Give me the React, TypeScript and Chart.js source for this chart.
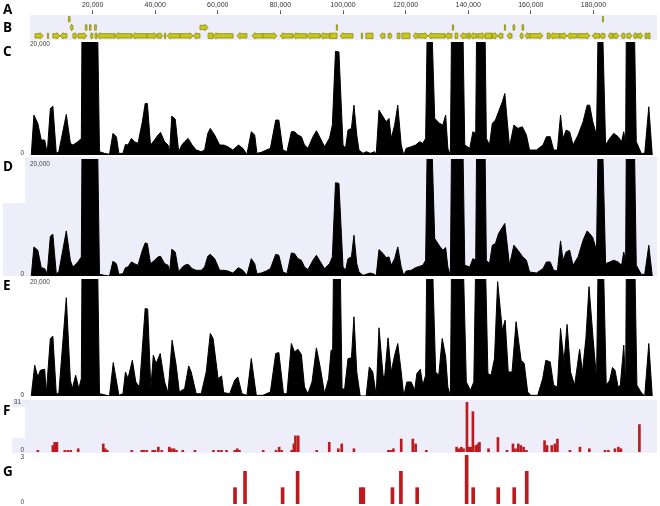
import React, { useEffect, useRef } from "react";
import { Chart, registerables } from "chart.js";
Chart.register(...registerables);

const X_MAX = 200000;
const TOP_TICKS = [20000, 40000, 60000, 80000, 100000, 120000, 140000, 160000, 180000];
const COV_MAX = 20000;
const F_MAX = 31;
const G_MAX = 3;

// Track C coverage (position in kb, value)
const C_POS = [0.4,1.25,2.5,3.6,4.7,5.5,6.5,7.3,8.4,9.2,11.6,12.9,13.7,15.3,16.4,16.7,21.4,22.2,23.8,25.4,26.5,27.6,28.4,29.7,30.5,31.3,32.4,33.4,34.5,35.9,36.8,37.5,38.5,39.8,40.9,41.7,43,44.1,44.6,45.3,46.4,47.5,48.5,49.4,50.5,51.8,53.1,54.7,55.8,56.8,57.6,59,60.6,61.9,63.2,64.8,66.6,68,69.3,70.7,71.8,72.5,73.9,75.5,76.8,78.5,79.5,80.8,82.1,83.5,84.5,85.6,86.7,87.7,88.8,90.4,91.5,92.8,94.1,95.7,96.6,97.6,98.7,100,100.8,101.6,102.7,103.5,104.4,105.1,106.4,107.4,108.7,110.1,110.6,111.5,112.8,113.8,114.7,115.4,116.5,117.5,118.6,119.4,120.2,121.8,123.2,124.5,125.5,126.4,127.0,128.0,129.3,130.9,131.9,132.8,133.5,134.3,134.8,138.1,138.9,140.5,141.5,142.4,142.8,145.2,145.8,146.8,147.7,148.7,149.7,150.9,151.7,153.2,154.6,155.9,157.3,158.6,159.6,161.8,163.9,165,166.2,167.3,168.5,169.5,170.3,171.3,172.4,173.5,175.1,176.7,178,178.8,179.8,181,181.7,182.6,183.9,185.2,186.5,187.9,189,189.7,190.3,190.6,192.9,193.7,195.3,196.4,197.7,198.8];
const C_VAL = [0,7060,5590,2650,2650,290,8240,8650,290,590,7180,2060,1760,2350,2940,30000,30000,590,290,120,3820,3240,290,290,1880,1760,2940,2350,2060,5880,9120,9120,1760,2650,3530,4000,2350,1760,590,6880,6350,590,1760,2350,2940,1760,880,590,880,3820,4710,3530,1760,1760,1470,880,1760,1180,120,4120,3530,290,470,880,1180,6180,6180,880,590,4120,4120,3530,3240,1760,1180,3240,4290,2940,1470,3000,5290,18350,18240,1760,1180,4410,4710,8820,3530,880,290,590,290,590,0,7940,6760,5880,6470,2940,5290,8820,1760,0,1180,1470,1760,2350,2060,2940,26000,30000,6470,5590,5290,7060,1180,0,30000,30000,1760,1180,4120,3820,30000,30000,2940,1760,5590,6180,7650,9410,10880,1470,5290,4710,5000,3530,880,880,1760,3240,3240,880,880,7060,2940,4410,4120,1760,3530,5880,8820,8820,5880,3530,30000,30000,1760,2940,3820,3240,2350,4120,2060,30000,30000,2350,290,290,8530,0];

// Track D coverage
const D_POS = [0.4,1.25,2.5,3.6,4.7,5.5,6.5,7.3,8.4,9.2,11.6,12.9,13.7,15.3,16.4,16.7,21.4,22.2,23.8,25.4,26.5,27.6,28.4,29.7,30.5,31.3,32.4,33.4,34.5,35.9,36.8,37.5,38.5,39.8,40.9,41.7,43,44.1,44.6,45.3,46.4,47.5,48.5,49.4,50.5,51.8,53.1,54.7,55.8,56.8,57.6,59,60.6,61.9,63.2,64.8,66.6,68,69.3,70.7,71.8,72.5,73.9,75.5,76.8,78.5,79.5,80.8,82.1,83.5,84.5,85.6,86.7,87.7,88.8,90.4,91.5,92.8,94.1,95.7,96.6,97.6,98.7,100,100.8,101.6,102.7,103.5,104.4,105.1,106.4,107.4,108.7,110.1,110.6,111.5,112.8,113.8,114.7,115.4,116.5,117.5,118.6,119.4,120.2,121.8,123.2,124.5,125.5,126.4,127.0,128.0,129.3,130.9,131.9,132.8,133.5,134.3,134.8,138.1,138.9,140.5,141.5,142.4,142.8,145.2,145.8,146.8,147.7,148.7,149.7,150.9,151.7,153.2,154.6,155.9,157.3,158.6,159.6,161.8,163.9,165,166.2,167.3,168.5,169.5,170.3,171.3,172.4,173.5,175.1,176.7,178,178.8,179.8,181,181.7,182.6,183.9,185.2,186.5,187.9,189,189.7,190.3,190.6,192.9,193.7,195.3,196.4,197.7,198.8];
const D_VAL = [0,4970,4400,1430,1260,400,6800,7140,400,690,7710,2690,1540,2400,3260,30000,30000,290,110,0,2510,2110,290,400,1430,1540,2400,2110,1830,4400,5660,5540,2110,2690,3260,3370,2110,1830,690,4570,4110,690,1430,1830,2000,1260,970,970,1540,3370,3710,2970,970,970,860,510,1430,970,110,2970,2110,400,510,860,1260,3710,3540,690,400,3940,3830,2970,2690,1540,1090,2690,3540,2400,1260,2110,3260,15940,15830,1540,970,2970,3260,6970,2110,690,110,290,510,290,0,4510,3830,3140,3260,1830,2970,4970,1540,110,860,970,1430,1660,1830,2690,26000,30000,6400,5090,4400,4860,1540,110,30000,30000,1830,1540,2970,2690,30000,30000,2690,2110,5260,5540,7260,8290,8970,1830,5260,4400,3370,2690,690,510,1260,2400,2400,970,860,6000,2690,4110,4400,1830,3260,6110,7710,7260,6570,4400,30000,30000,2110,2400,2690,2400,1830,4110,2400,30000,30000,1830,290,290,5260,0];

// Track E coverage
const E_POS = [0.4,1.5,2.5,3.3,4.7,5.2,6.5,7.3,8.4,9.2,11.6,12.9,13.5,14.6,15.6,16.4,16.7,21.4,22.2,25.4,26.6,28.4,29.7,30.5,31.3,32.7,33.8,35,36.8,37.6,38.6,39.4,40.3,41.6,43,44.1,45.4,46.7,47.7,49.4,50.7,51.5,53.1,54.7,56.3,57.6,58.5,60.1,61.2,61.9,63.8,65.4,66.4,67.7,69.3,70.7,72.3,74.4,76.8,78.5,79.5,81,82.1,83.5,84.5,85.6,86.7,87.7,88.8,90.1,91.5,92.8,94.1,95.4,96.2,96.7,97.1,98.9,99.7,100.5,101.6,102.7,103.5,104.4,105.5,107.4,108.4,109.5,110.6,111.5,112.8,113.3,114.4,115.4,116.5,117.5,118.6,119.4,120.4,121.8,122.9,123.6,124.7,125.5,126.4,126.9,128.2,129.6,130.6,131.7,132.8,133.5,134.3,134.8,138.1,139.4,140.7,141.8,142.6,145.2,146.3,147.3,148.4,149.4,150.9,151.8,152.8,154,155.3,156.9,157.9,159,160,162.2,163.8,164.8,166.2,167.3,168.5,169.5,170.6,171.6,172.7,174,175.6,176.5,177.6,178.6,179.9,181,181.7,182.9,184.1,185.2,186.1,186.9,187.9,188.6,189.7,190.3,190.6,193.0,193.9,195.3,196.4,197.7,198.8];
const E_VAL = [0,5260,3260,4400,4570,400,9830,10230,400,400,16800,2690,1260,3540,1260,2970,30000,30000,400,0,5710,110,400,4110,2970,6110,2400,1540,14970,14860,1260,6970,5540,7260,2400,570,9540,5260,690,1260,5140,4110,400,400,4110,10690,9830,2970,3430,570,400,2690,3260,400,110,6400,110,110,690,7260,7430,400,400,8970,7540,8000,7090,1540,400,2400,8230,4690,400,2970,7830,7830,30000,30000,1260,1140,6400,6510,13540,4110,0,0,4970,4110,110,11660,3540,3260,9940,4110,6970,8970,4110,0,2400,2400,970,3830,4570,1830,3540,30000,30000,4110,3540,9830,6690,1540,0,30000,30000,2400,970,2400,30000,30000,3830,3540,6400,19540,11260,12970,4110,4110,12690,6110,5540,690,110,110,2970,6110,5830,1830,1540,11540,5830,12230,4110,1830,8000,4110,9830,18690,9830,2970,30000,30000,1830,2690,4860,4400,1540,1830,8690,1830,30000,30000,1830,570,0,8970,0];

// Track F counts
const F_POS = [2.5,7.3,7.9,8.6,11.1,12.1,13.0,15.4,23.4,24.0,24.7,32.5,35.7,36.4,37.3,39.2,39.9,41.0,42.1,44.5,45.2,46.0,46.8,48.8,52.7,58.6,60.2,61.2,62.8,65.4,66.2,66.9,74.5,78.6,79.6,80.4,83.6,84.3,84.8,85.7,91.6,95.6,98.5,99.6,103.5,114.5,115.2,116.1,118.6,122.3,123.2,126.6,136.3,137.1,137.8,138.5,139.6,140.2,140.8,141.5,142.4,143.1,143.6,146.5,149.5,152.4,154.3,155.1,156.0,156.8,157.7,158.6,164.4,165.2,166.7,167.7,168.5,172.5,175.7,178.7,183.7,184.8,186.9,188.0,188.8,194.7];
const F_VAL = [1,4,6,6,1,1,1,2,5,2,1,1,1,1,1,1,1,3,1,3,2,2,1,1,1,1,1,1,1,1,2,1,1,1,3,1,1,5,10,10,1,6,2,5,2,1,1,2,8,8,5,1,3,2,3,2,31,3,3,25,4,5,6,2,9,1,5,2,5,4,3,1,7,4,4,5,8,1,3,2,1,1,2,3,2,17];

// Track G counts
const G_POS = [65.5,68.7,80.7,85.5,105.7,106.5,115.8,118.5,123.7,139.5,141.6,149.6,154.7,158.7];
const G_VAL = [1,2,1,2,1,1,1,2,1,3,1,1,1,2];

// Track B genes (kb), strand (1 forward, -1 reverse, 0 none), lane (0 top, 1 middle, 2 main)
const GENE_START = [1.6,5.6,7.3,9.6,13.7,15.3,19.2,20.8,21.4,27.2,32.6,37.4,40.6,43.0,43.8,47.9,52.1,56.9,58.5,66.1,70.9,74.4,79.9,84.0,88.5,92.7,95.8,99.0,105.9,107.3,111.8,114.4,117.3,118.8,122.4,124.3,127.2,132.6,135.8,137.4,139.9,140.6,143.1,145.4,147.6,149.5,152.4,156.5,158.1,159.7,165.2,166.1,169.3,171.6,175.1,179.6,182.1,184.7,186.3,188.8,190.7,192.7,194.2,196.5,197.4,12.8,17.7,19.0,20.6,54.3,97.9,135.0,151.6,154.3,157.2,12.3,182.9];
const GENE_END = [4.2,5.9,9.6,11.8,15.0,18.2,20.1,21.4,27.2,32.6,37.4,40.6,42.5,43.3,47.9,52.1,54.3,58.5,64.9,69.3,74.4,78.9,84.0,88.5,92.7,95.8,98.1,103.2,106.2,109.6,113.4,115.7,118.2,121.4,124.0,127.2,132.6,134.8,136.7,139.6,140.6,142.8,145.4,147.6,149.5,151.1,154.0,157.5,159.7,163.9,166.1,169.3,171.6,174.8,178.9,182.1,183.7,186.3,188.2,190.1,192.3,193.9,195.8,197.1,198.1,13.7,18.2,19.5,21.2,56.9,98.2,135.3,151.9,155.0,157.7,12.8,183.2];
const GENE_STRAND = [1,0,1,-1,1,1,-1,0,-1,-1,-1,1,1,0,-1,1,-1,0,-1,-1,-1,1,-1,-1,-1,-1,0,-1,0,0,-1,1,0,0,-1,1,-1,-1,0,-1,0,-1,1,0,1,-1,-1,-1,-1,1,0,-1,1,-1,1,-1,-1,-1,1,-1,1,-1,1,0,0,-1,0,0,0,1,0,0,0,1,-1,0,0];
const GENE_LANE = [2,2,2,2,2,2,2,2,2,2,2,2,2,2,2,2,2,2,2,2,2,2,2,2,2,2,2,2,2,2,2,2,2,2,2,2,2,2,2,2,2,2,2,2,2,2,2,2,2,2,2,2,2,2,2,2,2,2,2,2,2,2,2,2,2,1,1,1,1,1,1,1,1,1,1,0,0];
const LANES = ["top", "middle", "main"];

const LAVENDER = "rgb(238,238,251)";
const RED = "#bb1a1e";
const SMALL_FONT = '"Liberation Sans", Arial, sans-serif';

const baseOptions = (ymax: number): any => ({
  animation: false,
  responsive: false,
  maintainAspectRatio: false,
  events: [],
  layout: { padding: 0 },
  plugins: { legend: { display: false }, tooltip: { enabled: false } },
  scales: {
    x: { type: "linear", min: 0, max: X_MAX, display: false, offset: false },
    y: { type: "linear", min: 0, max: ymax, display: false },
  },
});

const coverageConfig = (pos: number[], val: number[]) => (): any => ({
  type: "line",
  data: {
    datasets: [
      {
        data: pos.map((p, i) => ({ x: p * 1000, y: val[i] })),
        borderColor: "#000",
        backgroundColor: "#000",
        borderWidth: 1,
        pointRadius: 0,
        fill: "origin",
        tension: 0,
      },
    ],
  },
  options: baseOptions(COV_MAX),
});

const barConfig = (pos: number[], val: number[], ymax: number, thickness: number) => (): any => ({
  type: "bar",
  data: {
    datasets: [
      {
        data: pos.map((p, i) => ({ x: p * 1000, y: val[i] })),
        backgroundColor: RED,
        borderWidth: 0,
        barThickness: thickness,
      },
    ],
  },
  options: baseOptions(ymax),
});

const geneArrows = {
  id: "geneArrows",
  afterDatasetsDraw(chart: any) {
    const ctx = chart.ctx;
    const meta = chart.getDatasetMeta(0);
    ctx.save();
    ctx.fillStyle = "#c6c61c";
    ctx.strokeStyle = "#8c8c08";
    ctx.lineWidth = 0.8;
    meta.data.forEach((el: any, i: number) => {
      const p = el.getProps(["x", "y", "base", "height"], true);
      let x0 = Math.min(p.x, p.base);
      let x1 = Math.max(p.x, p.base);
      if (x1 - x0 < 1.2) {
        const c = (x0 + x1) / 2;
        x0 = c - 0.6;
        x1 = c + 0.6;
      }
      const y = p.y;
      const hb = 2.2;
      const hh = 3.2;
      const head = Math.min(3, (x1 - x0) * 0.5);
      const s = GENE_STRAND[i];
      ctx.beginPath();
      if (s > 0 && x1 - x0 > 2) {
        ctx.moveTo(x0, y - hb);
        ctx.lineTo(x1 - head, y - hb);
        ctx.lineTo(x1 - head, y - hh);
        ctx.lineTo(x1, y);
        ctx.lineTo(x1 - head, y + hh);
        ctx.lineTo(x1 - head, y + hb);
        ctx.lineTo(x0, y + hb);
      } else if (s < 0 && x1 - x0 > 2) {
        ctx.moveTo(x1, y - hb);
        ctx.lineTo(x0 + head, y - hb);
        ctx.lineTo(x0 + head, y - hh);
        ctx.lineTo(x0, y);
        ctx.lineTo(x0 + head, y + hh);
        ctx.lineTo(x0 + head, y + hb);
        ctx.lineTo(x1, y + hb);
      } else {
        ctx.rect(x0, y - hb - 0.5, x1 - x0, 2 * hb + 1);
      }
      ctx.closePath();
      ctx.fill();
      ctx.stroke();
    });
    ctx.restore();
  },
};

const geneConfig = (): any => {
  const o = baseOptions(1);
  o.indexAxis = "y";
  o.scales = {
    x: { type: "linear", min: 0, max: X_MAX, display: false },
    y: { type: "category", display: false, offset: true },
  };
  return {
    type: "bar",
    data: {
      labels: LANES,
      datasets: [
        {
          data: GENE_START.map((s, i) => ({ x: [s * 1000, GENE_END[i] * 1000], y: LANES[GENE_LANE[i]] })),
          backgroundColor: "rgba(0,0,0,0)",
          borderWidth: 0,
          barThickness: 5,
        },
      ],
    },
    options: o,
    plugins: [geneArrows],
  };
};

const axisConfig = (): any => {
  const o = baseOptions(1);
  o.scales = {
    x: {
      type: "linear",
      position: "top",
      min: 0,
      max: X_MAX,
      offset: false,
      afterBuildTicks: (ax: any) => {
        ax.ticks = TOP_TICKS.map((v) => ({ value: v }));
      },
      ticks: {
        autoSkip: false,
        maxRotation: 0,
        padding: 1,
        color: "#333",
        font: { size: 7, family: SMALL_FONT },
        callback: (v: any) => Number(v).toLocaleString("en-US"),
      },
      grid: { drawOnChartArea: false, drawTicks: true, tickLength: 4, color: "#555" },
      border: { display: false },
    },
    y: { display: false },
  };
  return { type: "line", data: { datasets: [] }, options: o };
};

function ChartBox(props: { left: number; top: number; width: number; height: number; make: () => any }) {
  const ref = useRef<HTMLCanvasElement>(null);
  useEffect(() => {
    const chart = new Chart(ref.current as HTMLCanvasElement, props.make());
    return () => chart.destroy();
  }, []);
  return (
    <canvas
      ref={ref}
      width={props.width}
      height={props.height}
      style={{ position: "absolute", left: props.left, top: props.top, width: props.width, height: props.height }}
    />
  );
}

const Letter = ({ t, top }: { t: string; top: number }) => (
  <div
    style={{
      position: "absolute",
      left: 3,
      top,
      fontFamily: '"Open Sans", sans-serif',
      fontWeight: 700,
      fontSize: 13.5,
      lineHeight: "13px",
      color: "#000",
    }}
  >
    {t}
  </div>
);

const YLabel = ({ t, cy, left, right }: { t: string; cy: number; left?: number; right?: number }) => (
  <div
    style={{
      position: "absolute",
      top: cy - 4,
      left: right !== undefined ? right - 40 : left,
      width: right !== undefined ? 40 : undefined,
      textAlign: right !== undefined ? "right" : "left",
      fontFamily: SMALL_FONT,
      fontSize: 6.5,
      lineHeight: "8px",
      color: "#444",
      whiteSpace: "nowrap",
    }}
  >
    {t}
  </div>
);

export default function App() {
  const fmt = (v: number) => v.toLocaleString("en-US");
  return (
    <div style={{ position: "fixed", left: 0, top: 0, width: 660, height: 506, background: "#fff", overflow: "hidden" }}>
      {/* backgrounds */}
      <div style={{ position: "absolute", left: 30, top: 15, width: 627, height: 25, background: LAVENDER }} />
      <div style={{ position: "absolute", left: 3, top: 157, width: 654, height: 119, background: LAVENDER }} />
      <div style={{ position: "absolute", left: 0, top: 157, width: 25, height: 46, background: "#fff" }} />
      <div style={{ position: "absolute", left: 12, top: 400, width: 645, height: 53, background: LAVENDER }} />
      <div style={{ position: "absolute", left: 0, top: 407, width: 25, height: 31, background: "#fff" }} />

      <ChartBox left={30} top={0} width={626} height={32} make={axisConfig} />
      <ChartBox left={30} top={15} width={626} height={25} make={geneConfig} />
      <ChartBox left={30} top={42} width={626} height={113} make={coverageConfig(C_POS, C_VAL)} />
      <ChartBox left={30} top={159} width={626} height={117} make={coverageConfig(D_POS, D_VAL)} />
      <ChartBox left={30} top={279} width={626} height={117} make={coverageConfig(E_POS, E_VAL)} />
      <ChartBox left={30} top={402} width={626} height={50} make={barConfig(F_POS, F_VAL, F_MAX, 2)} />
      <ChartBox left={30} top={455} width={626} height={49} make={barConfig(G_POS, G_VAL, G_MAX, 3)} />

      <YLabel t={fmt(COV_MAX)} cy={44} left={30} />
      <YLabel t="0" cy={153} right={24} />
      <YLabel t={fmt(COV_MAX)} cy={163.5} left={30} />
      <YLabel t="0" cy={274} right={24} />
      <YLabel t={fmt(COV_MAX)} cy={282} left={30} />
      <YLabel t="0" cy={395} right={24} />
      <YLabel t={String(F_MAX)} cy={401.7} right={21} />
      <YLabel t="0" cy={450} right={24} />
      <YLabel t={String(G_MAX)} cy={456.7} right={24} />
      <YLabel t="0" cy={501.7} right={24} />

      <Letter t="A" top={3} />
      <Letter t="B" top={20.5} />
      <Letter t="C" top={44.5} />
      <Letter t="D" top={159.5} />
      <Letter t="E" top={278.5} />
      <Letter t="F" top={404} />
      <Letter t="G" top={464.5} />
    </div>
  );
}
